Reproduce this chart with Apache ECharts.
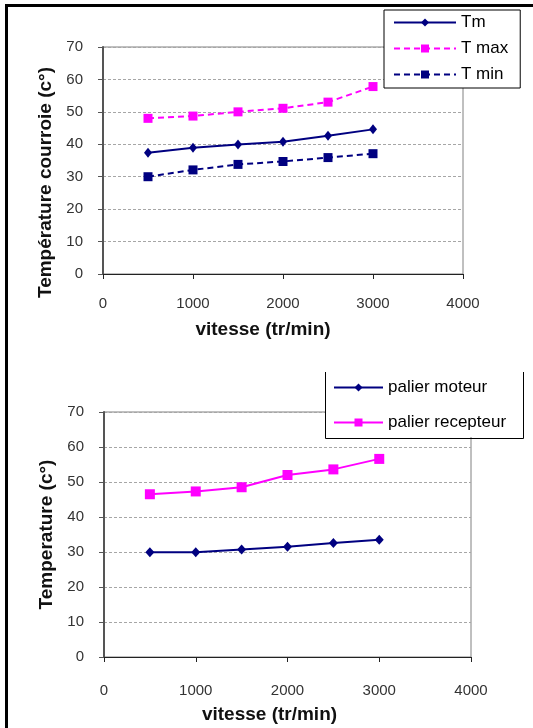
<!DOCTYPE html>
<html>
<head>
<meta charset="utf-8">
<script src="https://cdn.jsdelivr.net/npm/echarts@6/dist/echarts.min.js"></script>
<style>
  body { margin: 0; background: #fff; }
  #chart { position: absolute; left: 0; top: 0; width: 533px; height: 728px; }
  #frame { position: absolute; left: 5px; top: 4px; width: 540px; height: 740px;
           border-left: 3px solid #000; border-top: 3px solid #000; pointer-events: none; }
</style>
</head>
<body>
<div id="chart"></div>
<div id="frame"></div>
<script>
// vitesse (tr/min)
const vitesse = [500, 1000, 1500, 2000, 2500, 3000];
// courroie
const tMoy = [37.4, 38.9, 39.9, 40.8, 42.6, 44.6];
const tMax = [48.0, 48.7, 50.0, 51.1, 53.0, 57.8];
const tMin = [30.0, 32.1, 33.8, 34.7, 35.9, 37.1];
// paliers
const palierMoteur = [29.9, 29.9, 30.7, 31.5, 32.6, 33.5];
const palierRecepteur = [46.5, 47.3, 48.5, 52.0, 53.6, 56.6];

const xTicks = [0, 1000, 2000, 3000, 4000];
const yTicks = [0, 10, 20, 30, 40, 50, 60, 70];

const FONT = 'Liberation Sans, Arial, sans-serif';
const NAVY = '#000080';
const MAGENTA = '#ff00ff';

const pairs = (xs, ys) => xs.map((x, i) => [x, ys[i]]);

function xAxis(gridIndex, labelMargin, nameGap, shift) {
  return {
    type: 'value', gridIndex,
    min: xTicks[0], max: xTicks[xTicks.length - 1], interval: 1000,
    name: 'vitesse (tr/min)', nameLocation: 'middle', nameGap,
    nameTextStyle: { fontFamily: FONT, fontWeight: 'bold', fontSize: 19, color: '#111', padding: [0, shift, 0, 0] },
    axisLine: { lineStyle: { color: '#222', width: 1 } },
    axisTick: { show: true, length: 5, lineStyle: { color: '#222' } },
    axisLabel: { margin: labelMargin, fontFamily: FONT, fontSize: 15, color: '#333', formatter: v => String(v) },
    splitLine: { show: false }
  };
}

function yAxis(gridIndex, name, nameGap, labelMargin, shift) {
  return {
    type: 'value', gridIndex,
    min: yTicks[0], max: yTicks[yTicks.length - 1], interval: 10,
    name, nameLocation: 'middle', nameGap, nameRotate: 90,
    nameTextStyle: { fontFamily: FONT, fontWeight: 'bold', fontSize: 19, color: '#111', padding: [0, shift, 0, 0] },
    axisLine: { show: true, lineStyle: { color: '#555', width: 2 } },
    axisTick: { show: true, length: 5, lineStyle: { color: '#555' } },
    axisLabel: { margin: labelMargin, fontFamily: FONT, fontSize: 15, color: '#333' },
    splitLine: { show: true, lineStyle: { color: '#a6a6a6', type: [3, 2], width: 1 } }
  };
}

const chart = echarts.init(document.getElementById('chart'));

const option = {
  animation: false,
  backgroundColor: '#fff',
  grid: [
    { left: 103, top: 47, width: 360, height: 227, show: true, borderColor: '#808080', borderWidth: 1, backgroundColor: 'transparent' },
    { left: 104, top: 412, width: 367, height: 245, show: true, borderColor: '#808080', borderWidth: 1, backgroundColor: 'transparent' }
  ],
  xAxis: [xAxis(0, 22, 46, 40), xAxis(1, 26, 48, 36)],
  yAxis: [
    yAxis(0, 'Température courroie (c°)', 48, 20, 44),
    yAxis(1, 'Temperature (c°)', 48, 20, 0)
  ],
  legend: [
    {
      orient: 'vertical', left: 384, top: 10,
      data: ['Tm', 'T max', 'T min'],
      backgroundColor: '#fff', borderColor: '#000', borderWidth: 1,
      padding: [3, 12, 4, 9],
      itemWidth: 62, itemHeight: 10, itemGap: 7,
      textStyle: { fontFamily: FONT, fontSize: 17, color: '#000', lineHeight: 19 }
    },
    {
      orient: 'vertical', left: 325, top: 373,
      data: ['palier moteur', 'palier recepteur'],
      backgroundColor: '#fff', borderWidth: 0,
      padding: [5, 8, 5, 8],
      itemWidth: 49, itemHeight: 10, itemGap: 16,
      textStyle: { fontFamily: FONT, fontSize: 17, color: '#000', lineHeight: 19 }
    }
  ],
  graphic: [
    {
      // legend box of the lower chart, its top edge is cut off
      type: 'polyline', z: 100,
      shape: { points: [[325.5, 372], [325.5, 438.5], [523.5, 438.5], [523.5, 372]] },
      style: { stroke: '#000', lineWidth: 1, fill: null }
    }
  ],
  series: [
    {
      name: 'Tm', type: 'line', xAxisIndex: 0, yAxisIndex: 0,
      data: pairs(vitesse, tMoy),
      symbol: 'diamond', symbolSize: [8, 10],
      itemStyle: { color: NAVY },
      lineStyle: { color: NAVY, width: 2 }
    },
    {
      name: 'T max', type: 'line', xAxisIndex: 0, yAxisIndex: 0,
      data: pairs(vitesse, tMax),
      symbol: 'rect', symbolSize: 9,
      itemStyle: { color: MAGENTA },
      lineStyle: { color: MAGENTA, width: 2, type: [6, 4] }
    },
    {
      name: 'T min', type: 'line', xAxisIndex: 0, yAxisIndex: 0,
      data: pairs(vitesse, tMin),
      symbol: 'rect', symbolSize: 9,
      itemStyle: { color: NAVY },
      lineStyle: { color: NAVY, width: 2, type: [6, 4] }
    },
    {
      name: 'palier moteur', type: 'line', xAxisIndex: 1, yAxisIndex: 1,
      data: pairs(vitesse, palierMoteur),
      symbol: 'diamond', symbolSize: [9, 10],
      itemStyle: { color: NAVY },
      lineStyle: { color: NAVY, width: 2 }
    },
    {
      name: 'palier recepteur', type: 'line', xAxisIndex: 1, yAxisIndex: 1,
      data: pairs(vitesse, palierRecepteur),
      symbol: 'rect', symbolSize: 10,
      itemStyle: { color: MAGENTA },
      lineStyle: { color: MAGENTA, width: 2 }
    }
  ]
};

chart.setOption(option);
</script>
</body>
</html>
